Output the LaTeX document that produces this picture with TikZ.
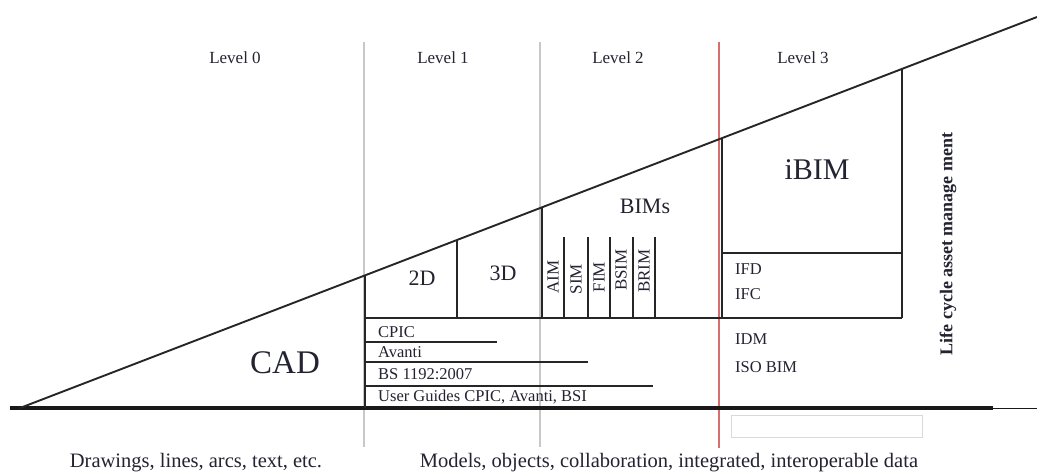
\documentclass[tikz,border=0pt]{standalone}
\usepackage{fontspec}
\setmainfont{Liberation Serif}
\definecolor{ink}{RGB}{35,35,50}
\definecolor{lvlgray}{RGB}{200,200,200}
\definecolor{lvlred}{RGB}{215,110,110}
\begin{document}
\begin{tikzpicture}[x=1pt,y=-1pt,
  lbl/.style={text=ink, inner sep=0pt, font=\fontsize{#1}{#1}\selectfont},
  lbl/.default=16.5,
  lvlline/.style={draw=lvlgray, line width=1.8pt},
  redline/.style={draw=lvlred, line width=1.5pt},
  frame/.style={draw=black!85, line width=1.3pt},
  thin/.style={draw=black!85, line width=1.1pt}]
\useasboundingbox (0,0) rectangle (1037,475);
\fill[white] (0,0) rectangle (1037,475);

% level separators
\coordinate (g1t) at (364,42);  \coordinate (g1b) at (364,447);
\coordinate (g2t) at (540,42);  \coordinate (g2b) at (540,447);
\coordinate (rt) at (719,42);   \coordinate (rb) at (719,448);
\draw[lvlline] (g1t) -- (g1b);
\draw[lvlline] (g2t) -- (g2b);
\draw[redline] (rt) -- (rb);

% faint box below baseline
\draw[draw=black!15, line width=0.8pt] (731,415) rectangle (922,437);

% baseline and diagonal
\coordinate (b0) at (10,408);
\coordinate (b1) at (993,408);
\coordinate (b2) at (1037,408);
\draw[line width=4pt, black!90] (b0) -- (b1);
\draw[line width=1pt, black!90] (b1) -- (b2);
\coordinate (d0) at (20,408);
\coordinate (d1) at (1037,17);
\draw[line width=1.9pt, black!85] (d0) -- (d1);

% level 1 structure
\draw[frame] (365,275.3) -- (365,408);
\draw[frame] (457,240) -- (457,318);
\draw[frame] (542,207.2) -- (542,318);
\draw[frame] (365,318) -- (902,318);
\foreach \x in {564,588,610,633,655} \draw[frame] (\x,237) -- (\x,318);
\draw[thin] (365,342) -- (497,342);
\draw[thin] (365,362) -- (588,362);
\draw[thin] (365,386) -- (653,386);

% level 3 box
\draw[frame] (722,138) -- (722,318);
\draw[frame] (902,68.8) -- (902,318);
\draw[frame] (722,253) -- (902,253);

% level labels
\node[lbl=17] (l0) at (235,58) {Level 0};
\node[lbl=17] (l1) at (443,58) {Level 1};
\node[lbl=17] (l2) at (618,58) {Level 2};
\node[lbl=17] (l3) at (803,58) {Level 3};

% big labels
\node[lbl=33] (cad) at (285,363) {CAD};
\node[lbl=22] (twod) at (422,278) {2D};
\node[lbl=22] (threed) at (503,273) {3D};
\node[lbl=22] (bims) at (645,206) {BIMs};
\node[lbl=30] (ibim) at (817,170) {iBIM};

% rotated model labels
\node[lbl=17, rotate=90] (aim) at (553,277) {AIM};
\node[lbl=17, rotate=90] (sim) at (576,279) {SIM};
\node[lbl=17, rotate=90] (fim) at (599,277) {FIM};
\node[lbl=17, rotate=90] (bsim) at (621,270) {BSIM};
\node[lbl=17, rotate=90] (brim) at (644,271) {BRIM};

% level 1 rows
\node[lbl, anchor=west] (cpic) at (378,332) {CPIC};
\node[lbl, anchor=west] (avanti) at (378,352) {Avanti};
\node[lbl, anchor=west] (bs) at (378,374) {BS 1192:2007};
\node[lbl, anchor=west] (ug) at (378,397) {User Guides CPIC, Avanti, BSI};

% level 3 standards
\node[lbl, anchor=west] (ifd) at (735,269) {IFD};
\node[lbl, anchor=west] (ifc) at (735,294) {IFC};
\node[lbl, anchor=west] (idm) at (735,339) {IDM};
\node[lbl, anchor=west] (iso) at (735,367) {ISO BIM};

% life cycle
\node[lbl=18, rotate=90, font=\bfseries\fontsize{18}{18}\selectfont] (life) at (948,244) {Life cycle asset manage ment};

% bottom captions
\node[lbl=20.5] (cap0) at (196,463) {Drawings, lines, arcs, text, etc.};
\node[lbl=20.5] (cap1) at (669,463) {Models, objects, collaboration, integrated, interoperable data};
\end{tikzpicture}
\end{document}
